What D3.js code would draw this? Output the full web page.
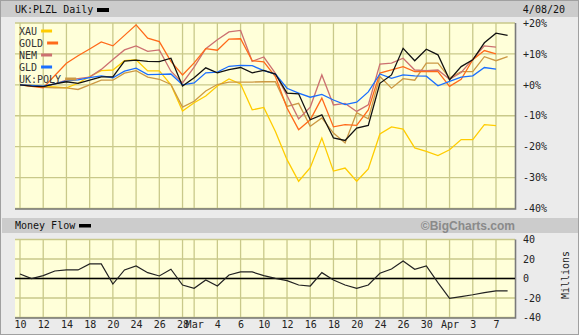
<!DOCTYPE html>
<html>
<head>
<meta charset="utf-8">
<script src="https://cdn.jsdelivr.net/npm/d3@7"></script>
<style>
  body { margin: 0; background: #e9e9e9; }
  svg { display: block; }
</style>
</head>
<body>
<svg id="chart" width="579" height="335"></svg>
<script>
// trading days, Feb 10 .. Apr 8 2020
var dates = ["2/10","2/11","2/12","2/13","2/14","2/17","2/18","2/19","2/20","2/21",
  "2/24","2/25","2/26","2/27","2/28","3/2","3/3","3/4","3/5","3/6",
  "3/9","3/10","3/11","3/12","3/13","3/16","3/17","3/18","3/19","3/20",
  "3/23","3/24","3/25","3/26","3/27","3/30","3/31","4/1","4/2","4/3",
  "4/6","4/7","4/8"];

var tickIdx = [0,2,4,6,8,10,12,14,15,17,19,21,23,25,27,29,31,33,35,37,39,41];
var tickLabels = ["10","12","14","18","20","24","26","28","Mar","4","6","10","12",
  "16","18","20","24","26","30","Apr","3","7"];

var pctTicks = [20, 10, 0, -10, -20, -30, -40];
var flowTicks = [40, 20, 0, -20, -40];

// % change series
var plzl = [0,-0.4,-0.6,0.3,1,0.5,1.5,2.6,2.6,7.7,8,7.6,7.5,8.6,-0.4,2.3,5.5,3.9,4.9,5.6,
  3.9,4.7,3.5,-2.7,-2.9,-11.3,-9.7,-17.2,-18,-14,-13.1,0.5,3.2,11.8,7.8,11.5,9.7,1.6,5.9,8.1,
  13.6,16.7,16];
var xau = [0,-0.2,-0.5,-0.7,-1,0.5,2.7,4.6,4.8,7.8,8.1,4.5,4.5,0,-8.5,-5.8,-3.6,-0.4,1.9,0.3,
  -8.1,-7.3,-15.1,-24.2,-31.2,-26.8,-17.2,-27.9,-26.9,-31.2,-27.2,-15.9,-13.6,-14.3,-20.4,-21.5,-22.9,-21,-17.7,-17.7,
  -12.9,-13.2];
var gold = [0,-0.5,-1,3,7,9.4,11.6,13.9,12.6,16,19.4,15.1,14,7.6,3.2,7.1,11.7,11.2,14.8,14.9,
  7.8,7.4,2.7,-7.5,-14.5,-11.3,-4.3,-13.6,-12.9,-13.1,-8.1,3.8,4.8,5.9,4.3,4.3,4.3,-0.5,1.8,8.1,
  11.1,10];
var nem = [0,-0.3,-0.5,0.3,1.5,2,2.5,5,8.2,11.3,12.6,10.8,11.3,4.4,0.6,5.7,11.7,14.6,17.1,17.6,
  7.6,9,3.7,-3.5,-11,-7.2,3.2,-6.5,-6,-8.6,-6.5,6.7,7,8.6,4.8,4.6,4.8,1.8,4,8.3,
  12.6,12.2];
var gld = [0,-0.2,-0.4,0.3,1.3,1.6,2.3,2.9,2.3,4.4,5.4,3.3,3.4,3.5,0,0.6,3.9,4.1,6,6.3,
  6.2,4.6,3.5,-1.1,-2.7,-4,-3.1,-4.9,-6.4,-5.6,-2.3,3.5,2.1,3.2,2.9,2.8,-0.3,1.1,2.5,2.9,
  5.6,5.1];
var poly = [0,-0.3,-0.8,-1,-1,-1.5,0,1.5,1.5,3.8,4.6,2.5,1.8,0.1,-7.2,-5.3,-2,0.1,0.9,0.9,
  0.9,1,1,-7,-6,-13.4,-10.7,-15.6,-18.8,-9,-11,2.7,-1.1,2,1.5,7,7,2.2,4.3,4.3,
  9.1,7.8,9.1];

// money flow, millions
var flow = [4.6,0,2.9,7.7,8.8,8.8,15,15,-5.7,8.8,12.9,6,2.6,9.5,-6.7,-10.1,-1.5,-7.7,3.6,6.7,
  6.7,2.9,0.2,-2.2,-6.7,-7.7,6,-1.5,-6.7,-10.1,-6.7,5.4,9.8,18,9.5,12.9,-4.3,-20.4,-18.5,-16.7,
  -14.5,-12.6,-12.6];

var seriesNames = ["XAU", "GOLD", "NEM", "GLD", "UK:POLY"];
var seriesColors = ["#ffcc00", "#ff6a1a", "#cc7070", "#1a6fff", "#cc9944"];

var svg = d3.select("#chart");
var font = "DejaVu Sans Mono, monospace";
var plotLeft = 15, plotRight = 515;
var gridColor = "#c9c98a";

var x = d3.scaleLinear().domain([0, dates.length - 1]).range([20, 507.6]);
var y = d3.scaleLinear().domain([-40, 20]).range([208.5, 23]);
var yFlow = d3.scaleLinear().domain([-40, 40]).range([317.5, 239.5]);

// frame + header bars
svg.append("rect").attr("x", 0.5).attr("y", 0.5).attr("width", 578).attr("height", 334)
  .attr("fill", "#ebebeb").attr("stroke", "#a0a0a0");
svg.append("rect").attr("x", 1).attr("y", 1).attr("width", 577).attr("height", 16).attr("fill", "#cccccc");
svg.append("rect").attr("x", 2).attr("y", 218).attr("width", 576).attr("height", 15).attr("fill", "#cccccc");

function panel(top, bottom, yScale, ticks) {
  svg.append("rect")
    .attr("x", plotLeft).attr("y", top)
    .attr("width", plotRight - plotLeft).attr("height", bottom - top)
    .attr("fill", "#ffffd9");
  tickIdx.forEach(function (d) {
    svg.append("line")
      .attr("x1", x(d)).attr("x2", x(d))
      .attr("y1", top).attr("y2", bottom)
      .attr("stroke", gridColor).attr("stroke-width", 1.3);
  });
  ticks.forEach(function (t) {
    svg.append("line")
      .attr("x1", plotLeft).attr("x2", plotRight)
      .attr("y1", yScale(t)).attr("y2", yScale(t))
      .attr("stroke", gridColor).attr("stroke-width", 1.3);
  });
  // shadow edge
  svg.append("path")
    .attr("d", "M" + plotLeft + "," + (bottom + 0.5) + "H" + (plotRight + 0.5) + "V" + top)
    .attr("fill", "none").attr("stroke", "#7a7a7a").attr("stroke-width", 1.6);
}

panel(23, 208.5, y, pctTicks);
panel(239.5, 317.5, yFlow, flowTicks);

// right-hand axes
function rightAxis(scale, ticks, fmt) {
  var g = svg.append("g").attr("transform", "translate(522,0)")
    .call(d3.axisRight(scale).tickValues(ticks).tickSize(0).tickPadding(1).tickFormat(fmt));
  g.select(".domain").remove();
  g.selectAll("text").attr("font-family", font).attr("font-size", "10px").attr("fill", "#222");
}
rightAxis(y, pctTicks, function (d) { return (d >= 0 ? "+" : "") + d + "%"; });
rightAxis(yFlow, flowTicks, function (d) { return d; });

var xg = svg.append("g").attr("transform", "translate(0,320)")
  .call(d3.axisBottom(x).tickValues(tickIdx).tickSize(0).tickPadding(1)
    .tickFormat(function (d, i) { return tickLabels[i]; }));
xg.select(".domain").remove();
xg.selectAll("text").attr("font-family", font).attr("font-size", "10px").attr("fill", "#222");

svg.append("text")
  .attr("transform", "translate(569,275) rotate(-90)")
  .attr("text-anchor", "middle")
  .attr("font-family", font).attr("font-size", "10px").attr("fill", "#222")
  .text("Millions");

// lines
var line = d3.line()
  .x(function (d, i) { return x(i); })
  .y(function (d) { return y(d); });

var drawOrder = [[xau, 0], [poly, 4], [nem, 2], [gold, 1], [gld, 3]];
drawOrder.forEach(function (s) {
  svg.append("path").datum(s[0])
    .attr("d", line)
    .attr("fill", "none")
    .attr("stroke", seriesColors[s[1]])
    .attr("stroke-width", 1.3);
});
svg.append("path").datum(plzl)
  .attr("d", line)
  .attr("fill", "none").attr("stroke", "#111").attr("stroke-width", 1.3);

// money flow
svg.append("line")
  .attr("x1", plotLeft).attr("x2", plotRight)
  .attr("y1", yFlow(0)).attr("y2", yFlow(0))
  .attr("stroke", "#000").attr("stroke-width", 1.5);
svg.append("path").datum(flow)
  .attr("d", d3.line().x(function (d, i) { return x(i); }).y(function (d) { return yFlow(d); }))
  .attr("fill", "none").attr("stroke", "#222").attr("stroke-width", 1.2);

// legend
seriesNames.forEach(function (name, i) {
  var ty = 34.5 + i * 12;
  var t = svg.append("text")
    .attr("x", 19).attr("y", ty)
    .attr("font-family", font).attr("font-size", "10px").attr("fill", "#333")
    .text(name);
  var w = t.node().getComputedTextLength();
  svg.append("rect")
    .attr("x", 19 + w + 4).attr("y", ty - 5)
    .attr("width", 11).attr("height", 3)
    .attr("fill", seriesColors[i]);
});

// header texts
svg.append("text").attr("x", 15).attr("y", 13)
  .attr("font-family", font).attr("font-size", "10px").attr("fill", "#111")
  .text("UK:PLZL Daily");
svg.append("rect").attr("x", 97).attr("y", 8).attr("width", 12).attr("height", 4).attr("fill", "#000");
svg.append("text").attr("x", 565).attr("y", 13).attr("text-anchor", "end")
  .attr("font-family", font).attr("font-size", "10px").attr("fill", "#111")
  .text("4/08/20");

svg.append("text").attr("x", 15).attr("y", 229)
  .attr("font-family", font).attr("font-size", "10px").attr("fill", "#111")
  .text("Money Flow");
svg.append("rect").attr("x", 79).attr("y", 224).attr("width", 12).attr("height", 3.5).attr("fill", "#000");
svg.append("text").attr("x", 515).attr("y", 230).attr("text-anchor", "end")
  .attr("font-family", "Liberation Sans, Arial, sans-serif").attr("font-weight", "bold")
  .attr("font-size", "12px").attr("fill", "#8a8a8a")
  .text("©BigCharts.com");
</script>
</body>
</html>
